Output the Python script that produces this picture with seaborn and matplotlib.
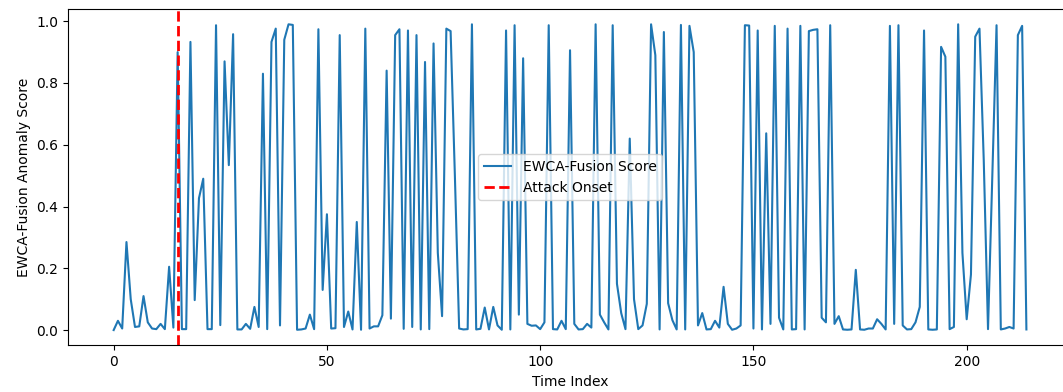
import numpy as np
import matplotlib
matplotlib.use("Agg")
import matplotlib.pyplot as plt
import seaborn as sns

# ---------------- DATA ----------------
scores = [
    0.0, 0.03, 0.005, 0.285, 0.10, 0.01, 0.012, 0.11, 0.025, 0.005,
    0.003, 0.02, 0.003, 0.205, 0.008, 0.90, 0.003, 0.003, 0.933, 0.097,
    0.427, 0.49, 0.003, 0.003, 0.987, 0.016, 0.87, 0.534, 0.958, 0.002,
    0.002, 0.02, 0.004, 0.075, 0.01, 0.83, 0.003, 0.933, 0.976, 0.015,
    0.94, 0.99, 0.988, 0.001, 0.002, 0.005, 0.05, 0.003, 0.974, 0.13,
    0.375, 0.005, 0.006, 0.955, 0.01, 0.06, 0.002, 0.35, 0.001, 0.976,
    0.005, 0.012, 0.012, 0.048, 0.84, 0.037, 0.955, 0.974, 0.004, 0.97,
    0.01, 0.955, 0.002, 0.868, 0.003, 0.928, 0.25, 0.045, 0.976, 0.968,
    0.5, 0.005, 0.002, 0.003, 0.99, 0.002, 0.004, 0.073, 0.002, 0.075,
    0.015, 0.001, 0.97, 0.002, 0.987, 0.05, 0.88, 0.02, 0.014, 0.015,
    0.003, 0.025, 0.987, 0.003, 0.002, 0.03, 0.003, 0.906, 0.02, 0.002,
    0.003, 0.02, 0.008, 0.99, 0.05, 0.025, 0.002, 0.987, 0.15, 0.055,
    0.003, 0.62, 0.10, 0.003, 0.015, 0.085, 0.99, 0.89, 0.002, 0.965,
    0.087, 0.032, 0.002, 0.988, 0.002, 0.985, 0.90, 0.015, 0.055, 0.002,
    0.003, 0.03, 0.008, 0.14, 0.02, 0.001, 0.005, 0.015, 0.987, 0.986,
    0.005, 0.97, 0.002, 0.637, 0.02, 0.985, 0.04, 0.002, 0.976, 0.002,
    0.003, 0.985, 0.002, 0.968, 0.972, 0.974, 0.04, 0.025, 0.987, 0.02,
    0.045, 0.002, 0.001, 0.002, 0.195, 0.002, 0.001, 0.005, 0.005, 0.035,
    0.02, 0.002, 0.985, 0.02, 0.987, 0.015, 0.002, 0.003, 0.025, 0.075,
    0.97, 0.002, 0.001, 0.002, 0.917, 0.885, 0.003, 0.01, 0.99, 0.25,
    0.035, 0.18, 0.95, 0.976, 0.55, 0.003, 0.5, 0.987, 0.002, 0.005,
    0.01, 0.005, 0.955, 0.985, 0.002,
]
time_index = np.arange(len(scores))
attack_onset = 15

# ---------------- PLOT ----------------
fig = plt.figure(figsize=(10.63, 3.92), dpi=100)
# the reference is cropped on the right, so the axes run past the edge
ax = fig.add_axes([0.064, 0.119, 0.9445, 0.858])

sns.lineplot(x=time_index, y=scores, ax=ax, color="#1f77b4",
             linewidth=1.5, label="EWCA-Fusion Score")
ax.axvline(attack_onset, color="red", linestyle="--", linewidth=2,
           label="Attack Onset")

ax.set_xlabel("Time Index")
ax.set_ylabel("EWCA-Fusion Anomaly Score")
ax.set_xticks([0, 50, 100, 150, 200])
ax.legend(loc="center")

fig.savefig("out.png", dpi=100)
plt.close(fig)
